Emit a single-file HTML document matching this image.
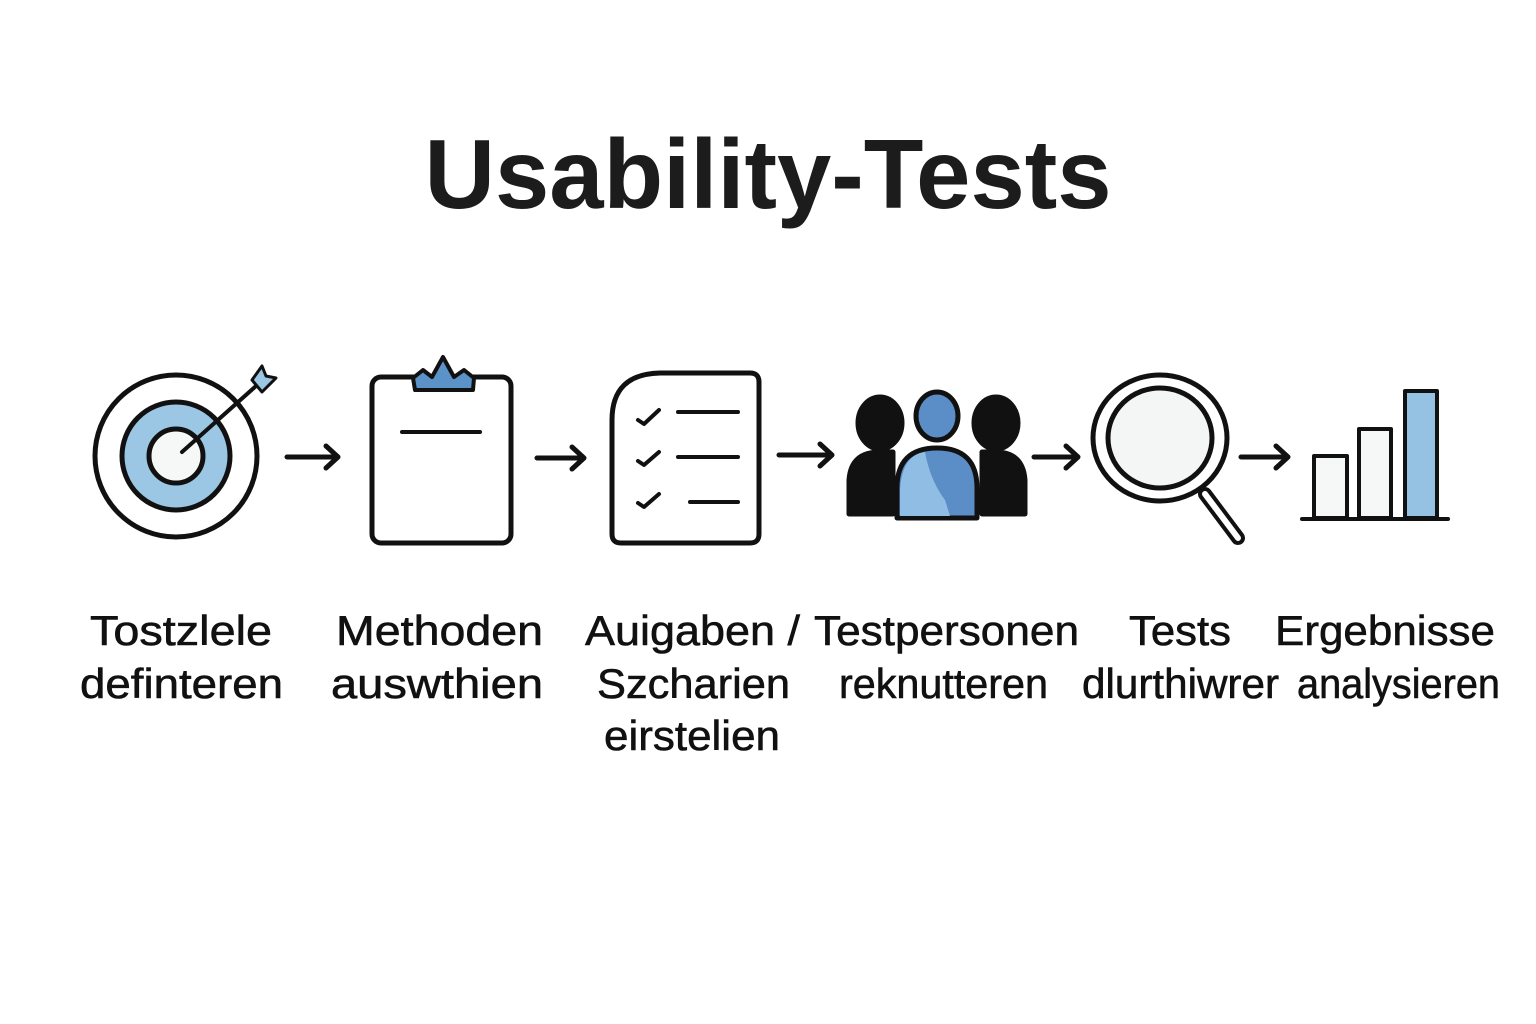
<!DOCTYPE html>
<html><head><meta charset="utf-8"><style>
html,body{margin:0;padding:0;background:#fff;}
svg{display:block;}
text{font-family:"Liberation Sans",sans-serif;fill:#111;}
</style></head><body>
<svg width="1536" height="1024" viewBox="0 0 1536 1024" xmlns="http://www.w3.org/2000/svg">
<rect width="1536" height="1024" fill="#fff"/>
<text x="768" y="208" text-anchor="middle" font-size="98" font-weight="bold" textLength="687" lengthAdjust="spacingAndGlyphs" style="fill:#1c1c1c">Usability-Tests</text>

<g fill="none" stroke="#111" stroke-width="5" stroke-linecap="round" stroke-linejoin="round">
<circle cx="176" cy="456" r="81" fill="#fff"/>
<circle cx="176" cy="456" r="54" fill="#9cc7e4"/>
<circle cx="176" cy="456" r="27" fill="#f6f7f7"/>
<line x1="182" y1="452" x2="256" y2="386" stroke-width="4"/>
<path d="M252 380 L262 366 L266 376 L276 378 L262 392 Z" fill="#9cc7e4" stroke-width="3"/>
<path d="M287 457 H338 M326 446 L338 457 L326 468"/>
<path d="M537 458 H584 M572 447 L584 458 L572 469"/>
<path d="M779 455 H832 M820 444 L832 455 L820 466"/>
<path d="M1034 457 H1078 M1066 446 L1078 457 L1066 468"/>
<path d="M1241 457 H1288 M1276 446 L1288 457 L1276 468"/>
<rect x="372" y="377" width="139" height="166" rx="9" fill="#fff"/>
<path d="M413 378 L423 370 L432 377 L443 357 L454 377 L464 370 L474 378 L473 390 L415 390 Z" fill="#5b93c8" stroke-width="4"/>
<line x1="402" y1="432" x2="480" y2="432" stroke-width="4"/>
<path d="M612 420 Q612 374 660 373 L750 373 Q759 373 759 382 L759 534 Q759 543 750 543 L621 543 Q612 543 612 534 Z" fill="#fff"/>
<path d="M638 420 L644 424 L659 410 M638 461 L644 465 L659 452 M638 503 L644 507 L659 494" stroke-width="4"/>
<path d="M678 412 H738 M678 457 H738 M690 502 H738" stroke-width="4"/>
<ellipse cx="880" cy="423" rx="22" ry="26" fill="#111" stroke="#111"/>
<ellipse cx="996" cy="423" rx="22" ry="26" fill="#111" stroke="#111"/>
<path d="M849 514 L849 480 Q851 452 880 452 L893 452 L893 514 Z" fill="#111" stroke="#111"/>
<path d="M1025 514 L1025 480 Q1023 452 995 452 L982 452 L982 514 Z" fill="#111" stroke="#111"/>
<ellipse cx="937" cy="416" rx="21" ry="24" fill="#5b8ec6" stroke-width="5"/>
<path d="M897 518 L897 488 Q897 448 937 448 Q977 448 977 488 L977 518 Z" fill="#5b8ec6" stroke-width="5"/>
<path d="M900 516 L900 490 Q902 455 925 452 Q930 480 945 500 L950 516 Z" fill="#8fbde3" stroke="none"/>
<line x1="1205" y1="494" x2="1238" y2="538" stroke-width="14"/>
<line x1="1205" y1="494" x2="1238" y2="538" stroke="#fff" stroke-width="6"/>
<ellipse cx="1160" cy="438" rx="67" ry="63" fill="#fff"/>
<ellipse cx="1160" cy="438" rx="52" ry="50" fill="#f4f5f5"/>
<rect x="1314" y="456" width="33" height="62" fill="#f6f7f7" stroke-width="4"/>
<rect x="1359" y="429" width="32" height="89" fill="#f6f7f7" stroke-width="4"/>
<rect x="1405" y="391" width="32" height="127" fill="#95c2e2" stroke-width="4"/>
<line x1="1302" y1="519" x2="1448" y2="519" stroke-width="4"/>
</g>

<g font-size="42" style="stroke:#111;stroke-width:0.6">
<text x="90" y="645" textLength="182" lengthAdjust="spacingAndGlyphs">Tostzlele</text>
<text x="80" y="698" textLength="203" lengthAdjust="spacingAndGlyphs">definteren</text>
<text x="336" y="645" textLength="207" lengthAdjust="spacingAndGlyphs">Methoden</text>
<text x="331" y="698" textLength="212" lengthAdjust="spacingAndGlyphs">auswthien</text>
<text x="585" y="645" textLength="215" lengthAdjust="spacingAndGlyphs">Auigaben /</text>
<text x="597" y="698" textLength="193" lengthAdjust="spacingAndGlyphs">Szcharien</text>
<text x="604" y="750" textLength="176" lengthAdjust="spacingAndGlyphs">eirstelien</text>
<text x="814" y="645" textLength="265" lengthAdjust="spacingAndGlyphs">Testpersonen</text>
<text x="839" y="698" textLength="209" lengthAdjust="spacingAndGlyphs">reknutteren</text>
<text x="1129" y="645" textLength="102" lengthAdjust="spacingAndGlyphs">Tests</text>
<text x="1082" y="698" textLength="197" lengthAdjust="spacingAndGlyphs">dlurthiwrer</text>
<text x="1275" y="645" textLength="220" lengthAdjust="spacingAndGlyphs">Ergebnisse</text>
<text x="1297" y="698" textLength="203" lengthAdjust="spacingAndGlyphs">analysieren</text>
</g>
</svg>
</body></html>
